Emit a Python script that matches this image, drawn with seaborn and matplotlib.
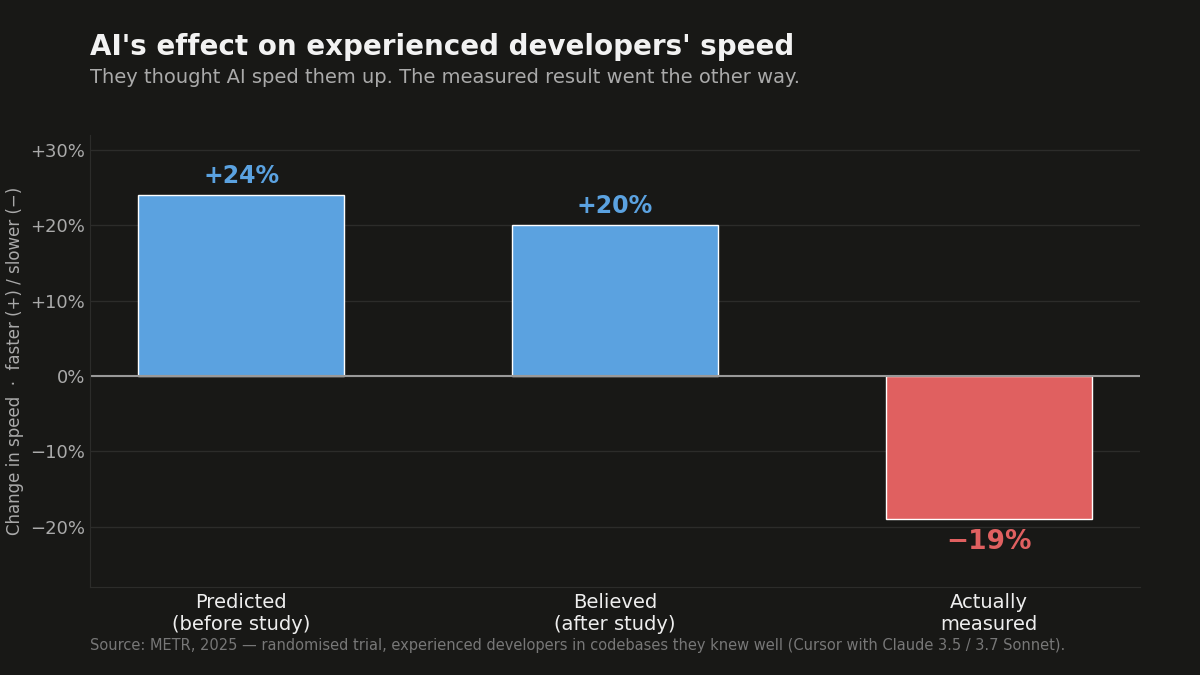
import matplotlib
matplotlib.use("Agg")
import matplotlib.pyplot as plt
import seaborn as sns
import pandas as pd

categories = ["Predicted\n(before study)", "Believed\n(after study)", "Actually\nmeasured"]
values = [24, 20, -19]
labels = ["+24%", "+20%", "\u221219%"]
yticks = [-20, -10, 0, 10, 20, 30]
ytick_labels = ["\u221220%", "\u221210%", "0%", "+10%", "+20%", "+30%"]

BG = "#181816"
BLUE = "#5BA2E0"
RED = "#E06060"

sns.set_style("dark")
plt.rcParams["font.family"] = ["DejaVu Sans"]

df = pd.DataFrame({"cat": categories, "val": values})
colors = [BLUE if v >= 0 else RED for v in values]

fig = plt.figure(figsize=(12, 6.75), dpi=100, facecolor=BG)
ax = fig.add_axes([0.075, 0.1304, 0.875, 0.6696])
ax.set_facecolor(BG)
sns.barplot(data=df, x="cat", y="val", hue="cat", palette=colors, legend=False,
            width=0.55, ax=ax, saturation=1)

ax.set_xlim(-0.404, 2.404)
ax.set_ylim(-28, 32)
ax.set_yticks(yticks)
ax.set_yticklabels(ytick_labels)
ax.grid(axis="y", color="#2c2c2a", linewidth=1)
ax.set_axisbelow(True)
ax.axhline(0, color="#999999", linewidth=1.5)
for s in ax.spines.values():
    s.set_visible(False)
ax.spines["left"].set_visible(True)
ax.spines["left"].set_color("#2c2c2a")
ax.spines["bottom"].set_visible(True)
ax.spines["bottom"].set_color("#2c2c2a")
ax.tick_params(axis="y", colors="#AAAAAA", labelsize=13, length=0)
ax.tick_params(axis="x", colors="#EEEEEE", labelsize=14, length=0, pad=4)
ax.set_xlabel("")
ax.set_ylabel("Change in speed  \u00b7  faster (+) / slower (\u2212)", color="#AAAAAA", fontsize=12)
ax.yaxis.set_label_coords(-0.063, 0.5)

for i, (v, lab) in enumerate(zip(values, labels)):
    c = BLUE if v >= 0 else RED
    if v >= 0:
        ax.text(i, v + 1.0, lab, ha="center", va="bottom", color=c, fontsize=17, fontweight="bold")
    else:
        ax.text(i, v - 1.3, lab, ha="center", va="top", color=c, fontsize=19, fontweight="bold")

fig.text(0.075, 0.93, "AI's effect on experienced developers' speed", color="#F2F2F2",
         fontsize=20, fontweight="bold", va="center")
fig.text(0.075, 0.885, "They thought AI sped them up. The measured result went the other way.",
         color="#AAAAAA", fontsize=14, va="center")
fig.text(0.075, 0.043, "Source: METR, 2025 \u2014 randomised trial, experienced developers in codebases they knew well (Cursor with Claude 3.5 / 3.7 Sonnet).",
         color="#777777", fontsize=10.5, va="center")

fig.savefig("out.png", facecolor=BG)
